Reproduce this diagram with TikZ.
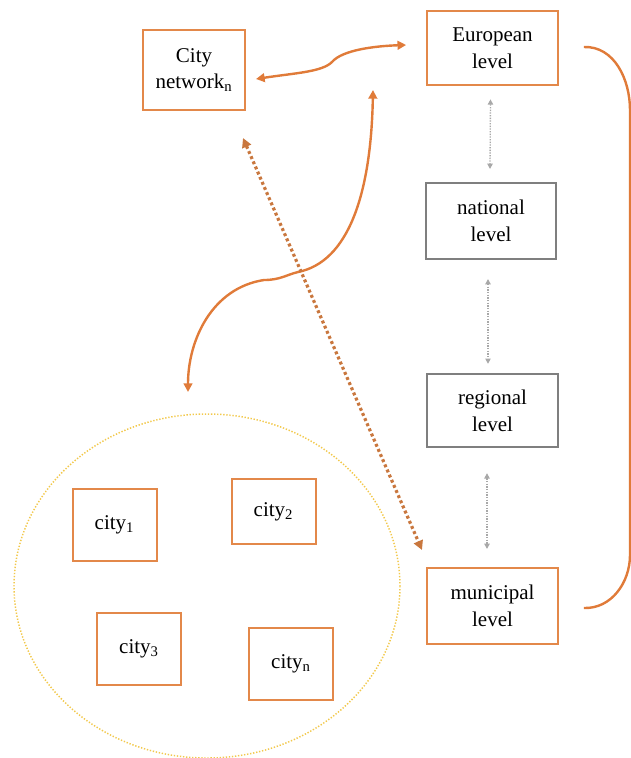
\documentclass[tikz,border=0pt]{standalone}
\usepackage{fontspec}
\setmainfont{Liberation Serif}
\usepackage{xcolor}
\usetikzlibrary{arrows.meta, calc, positioning}

\definecolor{boxorange}{HTML}{E3884A}
\definecolor{lineorange}{HTML}{E07B39}
\definecolor{dotorange}{HTML}{C9773E}
\definecolor{boxgrey}{HTML}{7F7F7F}
\definecolor{dotgrey}{HTML}{A8A8A8}
\definecolor{ringyellow}{HTML}{F2C84B}

\begin{document}
\begin{tikzpicture}[x=0.75pt, y=-0.75pt,
        every node/.style={font=\fontsize{15.75}{20}\selectfont, align=center, line width=1.5pt},
        orangebox/.style={draw=boxorange},
        greybox/.style={draw=boxgrey},
        levelbox/.style={minimum width=98pt, minimum height=56pt},
        citybox/.style={orangebox, minimum width=63pt, minimum height=54pt},
        link/.style={lineorange, line width=1.8pt, {Triangle[length=6.5pt, width=6.5pt]}-{Triangle[length=6.5pt, width=6.5pt]}},
        dotlink/.style={dotorange, line width=2.4pt, dash pattern=on 2.2pt off 2pt, {Triangle[length=7pt, width=7pt]}-{Triangle[length=7pt, width=7pt]}},
        steplink/.style={dotgrey, line width=1pt, dash pattern=on 1pt off 1pt, {Triangle[length=4pt, width=4pt]}-{Triangle[length=4pt, width=4pt]}}]
    \useasboundingbox (0,0) rectangle (631,758);

    % the ring of cities
    \draw[ringyellow, line width=1.1pt, dash pattern=on 1pt off 1.3pt] (207,586) ellipse (193 and 172);

    \node[orangebox, minimum width=76.5pt, minimum height=60pt] (citynet) at (194,70) {City\\network\textsubscript{n}};

    \node[orangebox, levelbox] (european) at (492.5,48) {European\\level};
    \node[greybox, levelbox, minimum height=57pt] (national) at (491,221) {national\\level};
    \node[greybox, levelbox, minimum height=55pt] (regional) at (492.5,410.5) {regional\\level};
    \node[orangebox, levelbox, minimum height=57pt] (municipal) at (492.5,606) {municipal\\level};

    \node[citybox] (city1) at (114.5,525) {city\textsubscript{1}};
    \node[citybox, minimum height=49pt] (city2) at (273.5,511.5) {city\textsubscript{2}};
    \node[citybox] (city3) at (139,649) {city\textsubscript{3}};
    \node[citybox] (cityn) at (291,664) {city\textsubscript{n}};

    % free ends
    \coordinate (euin) at (373,90);
    \coordinate (ringin) at (188,392);
    \coordinate (netout) at (243,138);
    \coordinate (munin) at (422,550);

    % levels
    \draw[steplink] ($(european.south)+(-2,13)$) -- ($(national.north)+(-1,-13)$);
    \draw[steplink] ($(national.south)+(-3,19)$) -- ($(regional.north)+(-4.5,-9)$);
    \draw[steplink] ($(regional.south)+(-5.5,25)$) -- ($(municipal.north)+(-5.5,-18)$);

    \draw[lineorange, line width=1.8pt] ($(european.east)+(25,-1)$) to[out=2, in=90] (630,110)
        -- (630,555) to[out=-90, in=-2] ($(municipal.east)+(25,2)$);

    % networks
    \draw[link] ($(citynet.east)+(10,9)$) .. controls (295,73) and (322,72) .. (332,62)
        .. controls (342,50) and (375,46) .. ($(european.west)+(-20,-3)$);
    \draw[link] (euin) .. controls (371,195) and (348,262) .. (298,272)
        .. controls (286,275) and (280,280) .. (264,280)
        .. controls (212,288) and (188,340) .. (ringin);
    \draw[dotlink] (netout) -- (munin);
\end{tikzpicture}
\end{document}
